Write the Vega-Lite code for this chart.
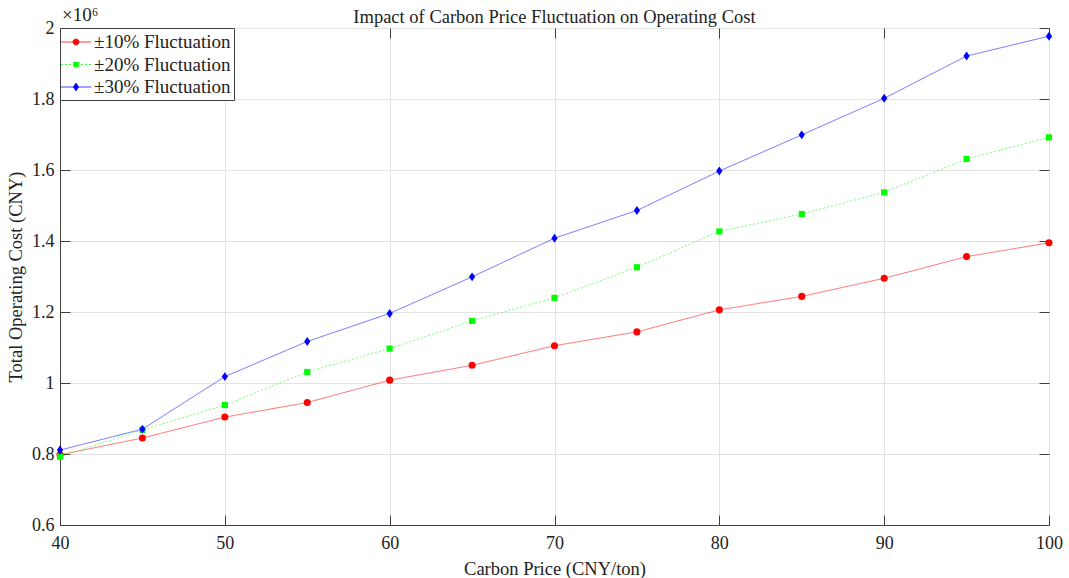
{
  "$schema": "https://vega.github.io/schema/vega-lite/v6.json",
  "width": 989,
  "height": 497,
  "autosize": {"type": "none"},
  "padding": {"left": 60, "top": 28, "right": 20, "bottom": 53},
  "background": "white",
  "config": {
    "view": {"stroke": "#404040", "strokeWidth": 1},
    "font": "Liberation Serif"
  },
  "title": {
    "text": "Impact of Carbon Price Fluctuation on Operating Cost",
    "font": "Liberation Serif",
    "fontSize": 18.5,
    "fontWeight": "normal",
    "color": "#222222",
    "anchor": "middle",
    "frame": "group",
    "offset": 5,
    "dy": 25
  },
  "data": {
    "values": [
      {"price": 40, "series": "±10% Fluctuation", "cost": 798000},
      {"price": 45, "series": "±10% Fluctuation", "cost": 845000},
      {"price": 50, "series": "±10% Fluctuation", "cost": 904000},
      {"price": 55, "series": "±10% Fluctuation", "cost": 945000},
      {"price": 60, "series": "±10% Fluctuation", "cost": 1008000},
      {"price": 65, "series": "±10% Fluctuation", "cost": 1050000},
      {"price": 70, "series": "±10% Fluctuation", "cost": 1105000},
      {"price": 75, "series": "±10% Fluctuation", "cost": 1144000},
      {"price": 80, "series": "±10% Fluctuation", "cost": 1206000},
      {"price": 85, "series": "±10% Fluctuation", "cost": 1244000},
      {"price": 90, "series": "±10% Fluctuation", "cost": 1295000},
      {"price": 95, "series": "±10% Fluctuation", "cost": 1356000},
      {"price": 100, "series": "±10% Fluctuation", "cost": 1395000},
      {"price": 40, "series": "±20% Fluctuation", "cost": 792000},
      {"price": 45, "series": "±20% Fluctuation", "cost": 868000},
      {"price": 50, "series": "±20% Fluctuation", "cost": 938000},
      {"price": 55, "series": "±20% Fluctuation", "cost": 1031000},
      {"price": 60, "series": "±20% Fluctuation", "cost": 1097000},
      {"price": 65, "series": "±20% Fluctuation", "cost": 1175000},
      {"price": 70, "series": "±20% Fluctuation", "cost": 1240000},
      {"price": 75, "series": "±20% Fluctuation", "cost": 1326000},
      {"price": 80, "series": "±20% Fluctuation", "cost": 1427000},
      {"price": 85, "series": "±20% Fluctuation", "cost": 1476000},
      {"price": 90, "series": "±20% Fluctuation", "cost": 1537000},
      {"price": 95, "series": "±20% Fluctuation", "cost": 1631000},
      {"price": 100, "series": "±20% Fluctuation", "cost": 1692000},
      {"price": 40, "series": "±30% Fluctuation", "cost": 811000},
      {"price": 45, "series": "±30% Fluctuation", "cost": 870000},
      {"price": 50, "series": "±30% Fluctuation", "cost": 1018000},
      {"price": 55, "series": "±30% Fluctuation", "cost": 1117000},
      {"price": 60, "series": "±30% Fluctuation", "cost": 1196000},
      {"price": 65, "series": "±30% Fluctuation", "cost": 1299000},
      {"price": 70, "series": "±30% Fluctuation", "cost": 1408000},
      {"price": 75, "series": "±30% Fluctuation", "cost": 1486000},
      {"price": 80, "series": "±30% Fluctuation", "cost": 1597000},
      {"price": 85, "series": "±30% Fluctuation", "cost": 1699000},
      {"price": 90, "series": "±30% Fluctuation", "cost": 1802000},
      {"price": 95, "series": "±30% Fluctuation", "cost": 1921000},
      {"price": 100, "series": "±30% Fluctuation", "cost": 1977000}
    ]
  },
  "resolve": {"axis": {"x": "independent", "y": "independent"}},
  "layer": [
    {
      "encoding": {
        "x": {
          "field": "price",
          "type": "quantitative",
          "scale": {"domain": [40, 100], "nice": false, "zero": false},
          "axis": {
            "orient": "bottom",
            "title": "Carbon Price (CNY/ton)",
            "values": [40, 50, 60, 70, 80, 90, 100],
            "grid": true,
            "gridColor": "#e3e3e3",
            "gridWidth": 1,
            "domainColor": "#404040",
            "tickColor": "#404040",
            "tickSize": -10,
            "labelPadding": 19,
            "labelFont": "Liberation Serif",
            "labelFontSize": 18,
            "labelColor": "#222222",
            "titleFont": "Liberation Serif",
            "titleFontSize": 18.5,
            "titleFontWeight": "normal",
            "titleColor": "#222222",
            "titlePadding": 7,
            "labelFlush": false
          }
        },
        "y": {
          "field": "cost",
          "type": "quantitative",
          "scale": {"domain": [600000, 2000000], "nice": false, "zero": false},
          "axis": {
            "orient": "left",
            "title": "Total Operating Cost (CNY)",
            "values": [600000, 800000, 1000000, 1200000, 1400000, 1600000, 1800000, 2000000],
            "labelExpr": "format(datum.value / 1000000, '~g')",
            "grid": true,
            "gridColor": "#e3e3e3",
            "gridWidth": 1,
            "domainColor": "#404040",
            "tickColor": "#404040",
            "tickSize": -10,
            "labelPadding": 16,
            "labelFont": "Liberation Serif",
            "labelFontSize": 18,
            "labelColor": "#222222",
            "titleFont": "Liberation Serif",
            "titleFontSize": 18.5,
            "titleFontWeight": "normal",
            "titleColor": "#222222",
            "titlePadding": 6,
            "labelFlush": false
          }
        },
        "color": {
          "field": "series",
          "type": "nominal",
          "scale": {"domain": ["±10% Fluctuation", "±20% Fluctuation", "±30% Fluctuation"], "range": ["#ff0000", "#00ff00", "#0000ff"]},
          "legend": {
            "title": null,
            "orient": "top-left",
            "offset": 0,
            "padding": 3,
            "rowPadding": 1.5,
            "fillColor": "white",
            "strokeColor": "#404040",
            "cornerRadius": 0,
            "symbolSize": 441,
            "symbolStrokeWidth": 0.8,
            "labelFont": "Liberation Serif",
            "labelFontSize": 19,
            "labelColor": "#222222",
            "labelOffset": 7,
            "symbolOffset": 2,
            "encode": {"symbols": {"update": {"opacity": {"value": 1}}}}
          }
        }
      },
      "layer": [
        {
          "mark": {"type": "line", "strokeWidth": 1, "opacity": 0.55},
          "encoding": {
            "strokeDash": {
              "field": "series",
              "type": "nominal",
              "scale": {"domain": ["±10% Fluctuation", "±20% Fluctuation", "±30% Fluctuation"], "range": [[1, 0], [2, 2], [1, 0]]},
              "legend": {"title": null}
            }
          }
        },
        {
          "transform": [{"filter": "datum.series === '±10% Fluctuation'"}],
          "mark": {"type": "point", "shape": "circle", "filled": true, "opacity": 1, "size": 50}
        },
        {
          "transform": [{"filter": "datum.series === '±20% Fluctuation'"}],
          "mark": {"type": "point", "shape": "square", "filled": true, "opacity": 1, "size": 38}
        },
        {
          "transform": [{"filter": "datum.series === '±30% Fluctuation'"}],
          "mark": {"type": "point", "shape": "M0,-1L0.7,0L0,1L-0.7,0Z", "filled": true, "opacity": 1, "size": 80}
        },
        {
          "mark": {"type": "point", "filled": true, "opacity": 0},
          "encoding": {
            "shape": {
              "field": "series",
              "type": "nominal",
              "scale": {"domain": ["±10% Fluctuation", "±20% Fluctuation", "±30% Fluctuation"], "range": [
                "M-1.45,0H-0.28M0.28,0H1.45M-0.28,0A0.28,0.28,0,1,1,0.28,0A0.28,0.28,0,1,1,-0.28,0Z",
                "M-1.45,0H1.45M-0.23,-0.23H0.23V0.23H-0.23Z",
                "M-1.45,0H1.45M0,-0.38L0.25,0L0,0.38L-0.25,0Z"
              ]},
              "legend": {"title": null}
            }
          }
        }
      ]
    },
    {
      "data": {"values": [{"price": 40, "cost": 2000000, "label": "×10⁶"}]},
      "mark": {"type": "text", "align": "left", "baseline": "bottom", "dx": 2, "dy": -3, "font": "Liberation Serif", "fontSize": 19, "color": "#222222"},
      "encoding": {
        "x": {
          "field": "price",
          "type": "quantitative",
          "axis": {"orient": "top", "title": null, "labels": false, "grid": false, "domain": false, "values": [40, 50, 60, 70, 80, 90, 100], "tickColor": "#404040", "tickSize": -10}
        },
        "y": {
          "field": "cost",
          "type": "quantitative",
          "axis": {"orient": "right", "title": null, "labels": false, "grid": false, "domain": false, "values": [600000, 800000, 1000000, 1200000, 1400000, 1600000, 1800000, 2000000], "tickColor": "#404040", "tickSize": -10}
        },
        "text": {"field": "label"},
        "color": {"value": "#222222"}
      }
    }
  ]
}
